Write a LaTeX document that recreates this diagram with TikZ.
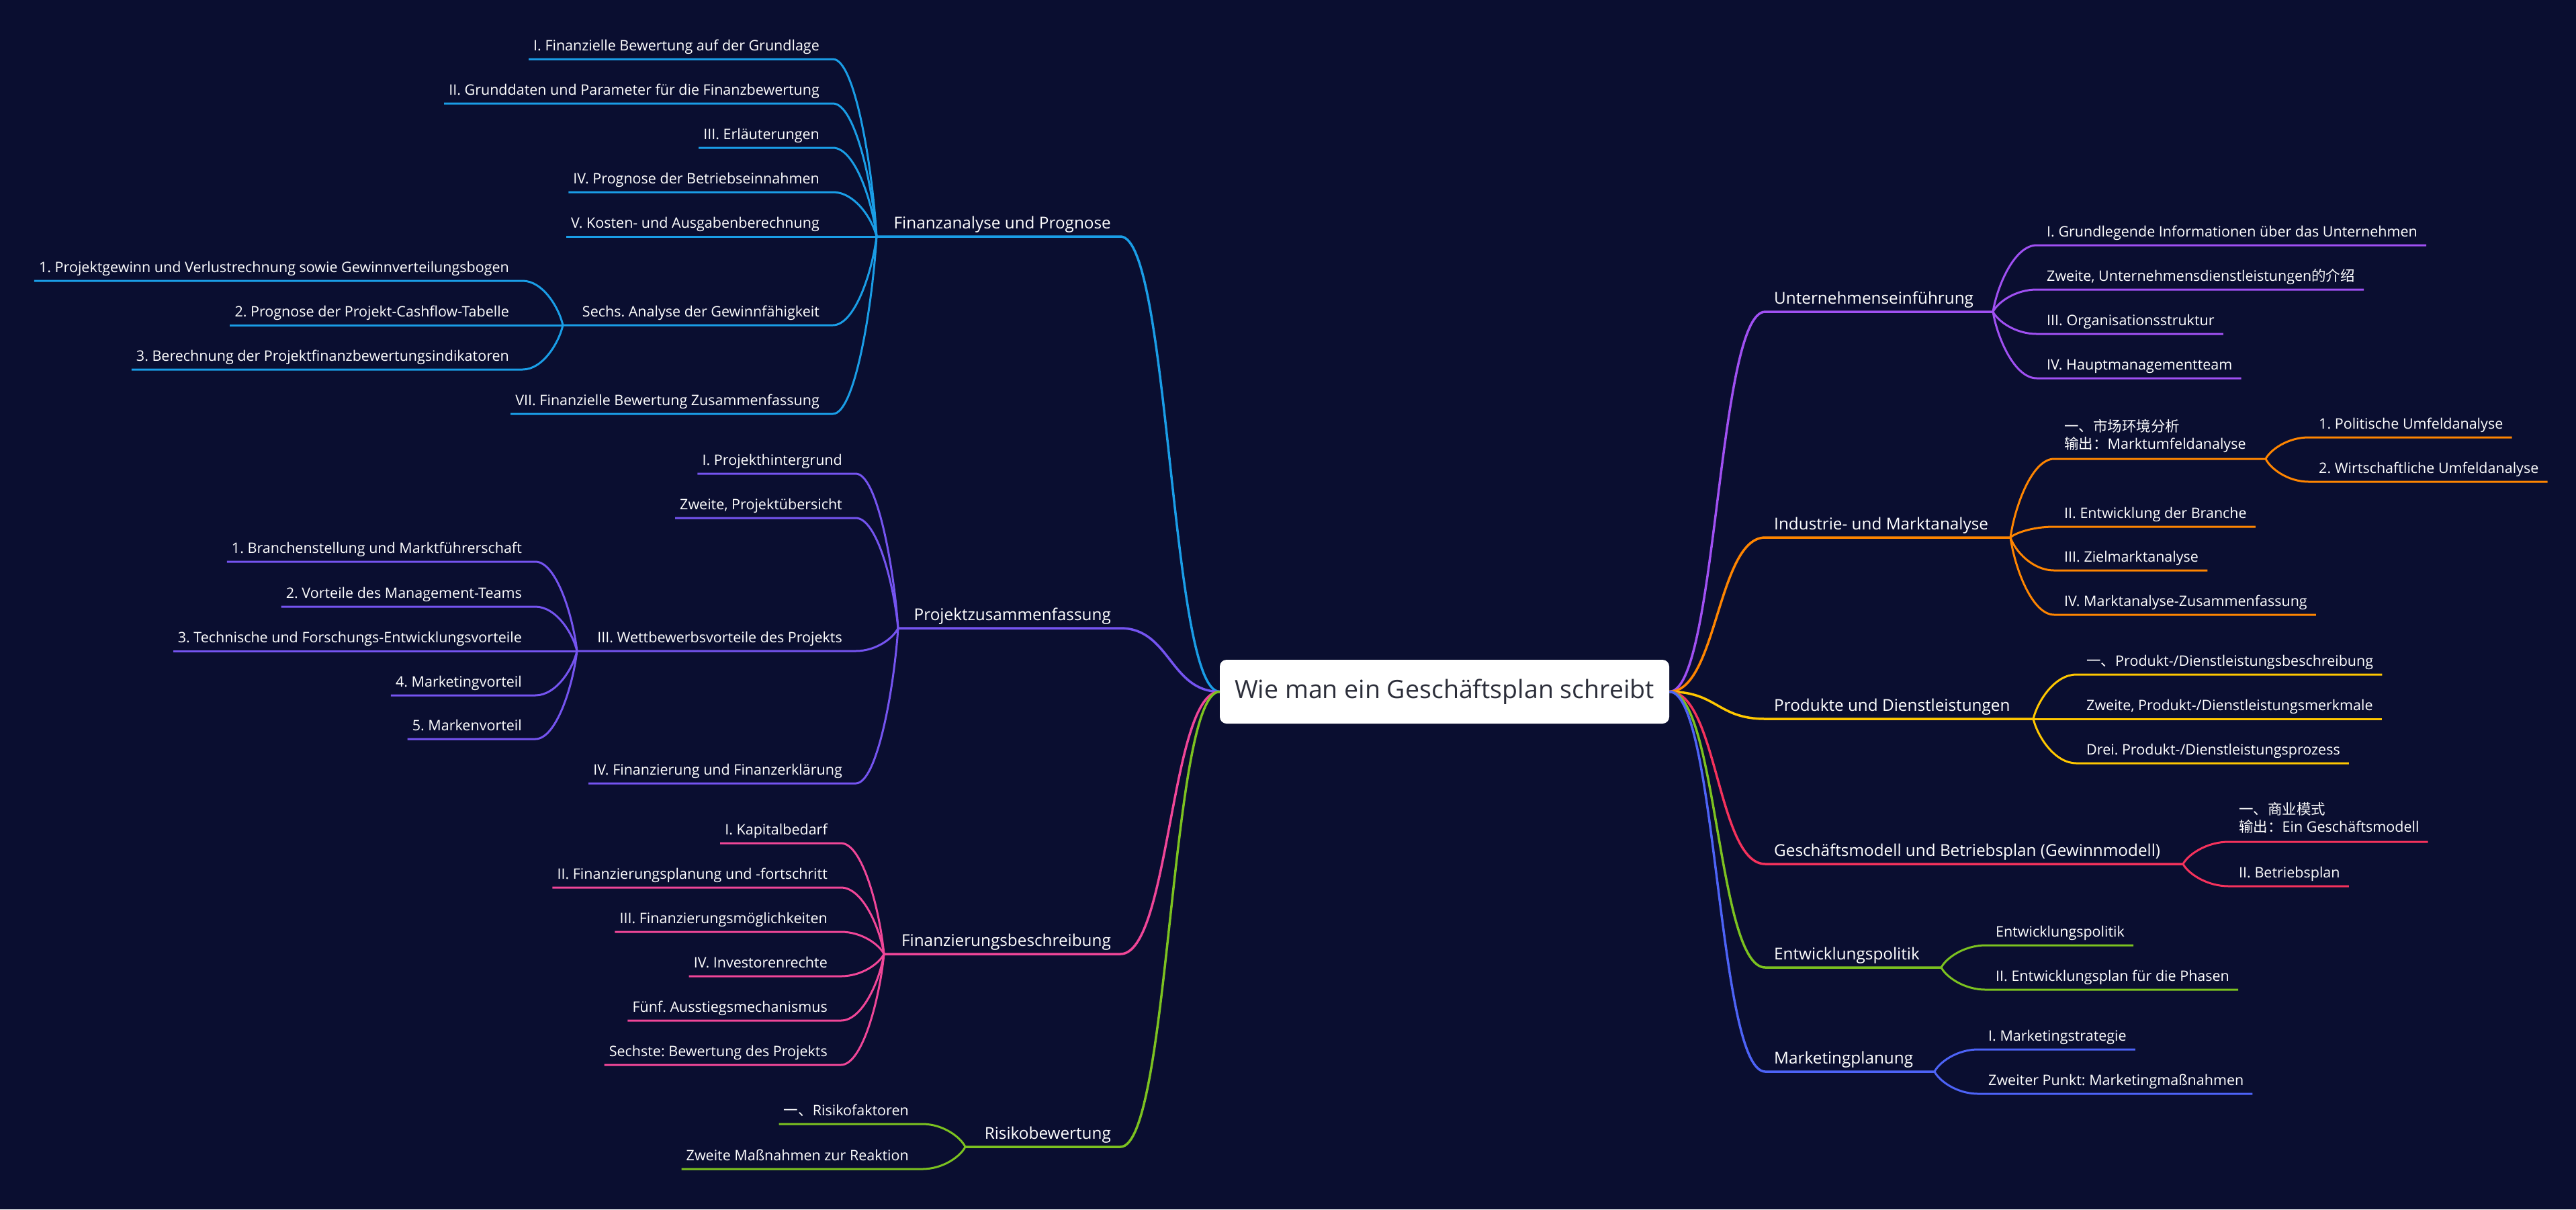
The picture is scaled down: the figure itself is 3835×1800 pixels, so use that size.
\documentclass[tikz,border=0pt]{standalone}
\usepackage{fontspec}
\setmainfont{Open Sans}
\newfontfamily\cjk{Noto Sans CJK SC}
\usetikzlibrary{calc}
\frenchspacing
\definecolor{bg}{RGB}{10,14,48}
\definecolor{rootText}{RGB}{44,46,58}
\definecolor{cBlue}{RGB}{26,157,230}
\definecolor{cViolet}{RGB}{117,84,240}
\definecolor{cPink}{RGB}{240,70,152}
\definecolor{cLime}{RGB}{124,194,32}
\definecolor{cPurple}{RGB}{160,80,242}
\definecolor{cOrange}{RGB}{255,133,0}
\definecolor{cYellow}{RGB}{255,199,0}
\definecolor{cRed}{RGB}{245,50,92}
\definecolor{cRoyal}{RGB}{77,99,247}
\newcommand\rootfont{\fontsize{37.5}{45}\selectfont}
\newcommand\topicfont{\fontsize{24.3}{29}\selectfont}
\newcommand\kidfont{\fontsize{21.5}{25}\selectfont}
\tikzset{
  rootbox/.style={fill=white, rounded corners=10pt, minimum width=669pt, minimum height=95pt, inner sep=0pt, text=rootText, font=\rootfont},
  topic/.style={inner sep=0pt, text=white, font=\topicfont},
  kid/.style={inner sep=0pt, text=white, font=\kidfont},
  mainline/.style={line width=3.5pt},
  kidline/.style={line width=3pt},
}
% S-shaped connector from the root to a main topic
\newcommand\rootlink[4]{%
  \draw[#1] let \p1=(#2), \p2=(#3) in (\p1) .. controls ({0.5*\x1+0.5*\x2},\y1) and ({0.5*\x1+0.5*\x2},\y2) .. (\p2) -- (#4);}
% connector from a junction to a child underline
\newcommand\linkto[4]{%
  \draw[#1] let \p1=(#2), \p2=(#3) in (\p1) .. controls ({0.9*\x1+0.1*\x2},{0.6*\y1+0.4*\y2}) and ({0.5*\x1+0.5*\x2},\y2) .. (\p2) -- (#4);}
\newcommand\mainL[5]{%
  \node[topic,anchor=base east] (#1) at (1654,#3-12) {#5};
  \coordinate (#1c) at ([xshift=14pt,yshift=-12pt]#1.base east);
  \coordinate (#1j) at (#4,#3);
  \rootlink{mainline,#2}{root.west}{#1c}{#1j}}
\newcommand\mainR[5]{%
  \node[topic,anchor=base west] (#1) at (2641,#3-12) {#5};
  \coordinate (#1c) at ([xshift=-13pt,yshift=-12pt]#1.base west);
  \coordinate (#1j) at (#4,#3);
  \rootlink{mainline,#2}{root.east}{#1c}{#1j}}
\newcommand\kidL[6]{%
  \node[kid,anchor=base east] (#1) at (#4,#5-13) {#6};
  \coordinate (#1c) at ([xshift=20pt,yshift=-13pt]#1.base east);
  \coordinate (#1f) at ([xshift=-7pt,yshift=-13pt]#1.base west);
  \linkto{kidline,#2}{#3}{#1c}{#1f}}
\newcommand\kidR[6]{%
  \node[kid,anchor=base west] (#1) at (#4,#5-13) {#6};
  \coordinate (#1c) at ([xshift=-15pt,yshift=-13pt]#1.base west);
  \coordinate (#1f) at ([xshift=13pt,yshift=-13pt]#1.base east);
  \linkto{kidline,#2}{#3}{#1c}{#1f}}
\begin{document}
\begin{tikzpicture}[x=1pt,y=-1pt]
\fill[bg] (0,0) rectangle (3835,1800);
\useasboundingbox (0,0) rectangle (3835,1800);
\node[rootbox] (root) at (2150.5,1029.5) {Wie man ein Geschäftsplan schreibt};

% ---------------- left side ----------------
\mainL{m1}{cBlue}{352}{1305}{Finanzanalyse und Prognose}
\mainL{m2}{cViolet}{935}{1337}{Projektzusammenfassung}
\mainL{m3}{cPink}{1420}{1316}{Finanzierungsbeschreibung}
\mainL{m4}{cLime}{1707}{1437}{Risikobewertung}

% Finanzanalyse und Prognose
\kidL{a1}{cBlue}{m1j}{1220}{88}{I. Finanzielle Bewertung auf der Grundlage}
\kidL{a2}{cBlue}{m1j}{1220}{154}{II. Grunddaten und Parameter für die Finanzbewertung}
\kidL{a3}{cBlue}{m1j}{1220}{220}{III. Erläuterungen}
\kidL{a4}{cBlue}{m1j}{1220}{286}{IV. Prognose der Betriebseinnahmen}
\kidL{a5}{cBlue}{m1j}{1220}{352}{V. Kosten- und Ausgabenberechnung}
\node[kid,anchor=base east] (a6) at (1220,484-13) {Sechs. Analyse der Gewinnfähigkeit};
\coordinate (a6c) at ([xshift=20pt,yshift=-13pt]a6.base east);
\coordinate (a6j) at (838,484);
\linkto{kidline,cBlue}{m1j}{a6c}{a6j}
\kidL{a7}{cBlue}{m1j}{1220}{616}{VII. Finanzielle Bewertung Zusammenfassung}
\kidL{b1}{cBlue}{a6j}{758}{418}{1. Projektgewinn und Verlustrechnung sowie Gewinnverteilungsbogen}
\kidL{b2}{cBlue}{a6j}{758}{484}{2. Prognose der Projekt-Cashflow-Tabelle}
\kidL{b3}{cBlue}{a6j}{758}{550}{3. Berechnung der Projektfinanzbewertungsindikatoren}

% Projektzusammenfassung
\kidL{c1}{cViolet}{m2j}{1254}{705}{I. Projekthintergrund}
\kidL{c2}{cViolet}{m2j}{1254}{771}{Zweite, Projektübersicht}
\node[kid,anchor=base east] (c3) at (1254,969-13) {III. Wettbewerbsvorteile des Projekts};
\coordinate (c3c) at ([xshift=20pt,yshift=-13pt]c3.base east);
\coordinate (c3j) at (859,969);
\linkto{kidline,cViolet}{m2j}{c3c}{c3j}
\kidL{c4}{cViolet}{m2j}{1254}{1166}{IV. Finanzierung und Finanzerklärung}
\kidL{d1}{cViolet}{c3j}{777}{836}{1. Branchenstellung und Marktführerschaft}
\kidL{d2}{cViolet}{c3j}{777}{903}{2. Vorteile des Management-Teams}
\kidL{d3}{cViolet}{c3j}{777}{969}{3. Technische und Forschungs-Entwicklungsvorteile}
\kidL{d4}{cViolet}{c3j}{777}{1035}{4. Marketingvorteil}
\kidL{d5}{cViolet}{c3j}{777}{1100}{5. Markenvorteil}

% Finanzierungsbeschreibung
\kidL{e1}{cPink}{m3j}{1232}{1255}{I. Kapitalbedarf}
\kidL{e2}{cPink}{m3j}{1232}{1321}{II. Finanzierungsplanung und -fortschritt}
\kidL{e3}{cPink}{m3j}{1232}{1387}{III. Finanzierungsmöglichkeiten}
\kidL{e4}{cPink}{m3j}{1232}{1453}{IV. Investorenrechte}
\kidL{e5}{cPink}{m3j}{1232}{1519}{Fünf. Ausstiegsmechanismus}
\kidL{e6}{cPink}{m3j}{1232}{1585}{Sechste: Bewertung des Projekts}

% Risikobewertung
\kidL{g1}{cLime}{m4j}{1353}{1673}{{\cjk 一、}Risikofaktoren}
\kidL{g2}{cLime}{m4j}{1353}{1740}{Zweite Maßnahmen zur Reaktion}

% ---------------- right side ----------------
\mainR{m5}{cPurple}{464}{2967}{Unternehmenseinführung}
\mainR{m6}{cOrange}{800}{2993}{Industrie- und Marktanalyse}
\mainR{m7}{cYellow}{1070}{3027}{Produkte und Dienstleistungen}
\mainR{m8}{cRed}{1286}{3250}{Geschäftsmodell und Betriebsplan (Gewinnmodell)}
\mainR{m9}{cLime}{1440}{2890}{Entwicklungspolitik}
\mainR{m10}{cRoyal}{1595}{2880}{Marketingplanung}

% Unternehmenseinführung
\kidR{h1}{cPurple}{m5j}{3047}{365}{I. Grundlegende Informationen über das Unternehmen}
\kidR{h2}{cPurple}{m5j}{3047}{431}{Zweite, Unternehmensdienstleistungen{\cjk 的介绍}}
\kidR{h3}{cPurple}{m5j}{3047}{497}{III. Organisationsstruktur}
\kidR{h4}{cPurple}{m5j}{3047}{563}{IV. Hauptmanagementteam}

% Industrie- und Marktanalyse
\node[kid,anchor=base west] (i1) at (3073,683-15) {\begin{tabular}[b]{@{}l@{}}{\cjk 一、市场环境分析}\\{\cjk 输出：}Marktumfeldanalyse\end{tabular}};
\coordinate (i1c) at ([xshift=-15pt,yshift=-15pt]i1.base west);
\coordinate (i1j) at (3373,683);
\linkto{kidline,cOrange}{m6j}{i1c}{i1j}
\kidR{j1}{cOrange}{i1j}{3452}{651}{1. Politische Umfeldanalyse}
\kidR{j2}{cOrange}{i1j}{3452}{717}{2. Wirtschaftliche Umfeldanalyse}
\kidR{i2}{cOrange}{m6j}{3073}{784}{II. Entwicklung der Branche}
\kidR{i3}{cOrange}{m6j}{3073}{849}{III. Zielmarktanalyse}
\kidR{i4}{cOrange}{m6j}{3073}{915}{IV. Marktanalyse-Zusammenfassung}

% Produkte und Dienstleistungen
\kidR{k1}{cYellow}{m7j}{3106}{1004}{{\cjk 一、}Produkt-/Dienstleistungsbeschreibung}
\kidR{k2}{cYellow}{m7j}{3106}{1070}{Zweite, Produkt-/Dienstleistungsmerkmale}
\kidR{k3}{cYellow}{m7j}{3106}{1136}{Drei. Produkt-/Dienstleistungsprozess}

% Geschaeftsmodell
\node[kid,anchor=base west] (l1) at (3333,1253-15) {\begin{tabular}[b]{@{}l@{}}{\cjk 一、商业模式}\\{\cjk 输出：}Ein Geschäftsmodell\end{tabular}};
\coordinate (l1c) at ([xshift=-15pt,yshift=-15pt]l1.base west);
\coordinate (l1f) at ([xshift=13pt,yshift=-15pt]l1.base east);
\linkto{kidline,cRed}{m8j}{l1c}{l1f}
\kidR{l2}{cRed}{m8j}{3333}{1319}{II. Betriebsplan}

% Entwicklungspolitik
\kidR{n1}{cLime}{m9j}{2971}{1407}{Entwicklungspolitik}
\kidR{n2}{cLime}{m9j}{2971}{1473}{II. Entwicklungsplan für die Phasen}

% Marketingplanung
\kidR{o1}{cRoyal}{m10j}{2960}{1562}{I. Marketingstrategie}
\kidR{o2}{cRoyal}{m10j}{2960}{1628}{Zweiter Punkt: Marketingmaßnahmen}
\end{tikzpicture}
\end{document}
